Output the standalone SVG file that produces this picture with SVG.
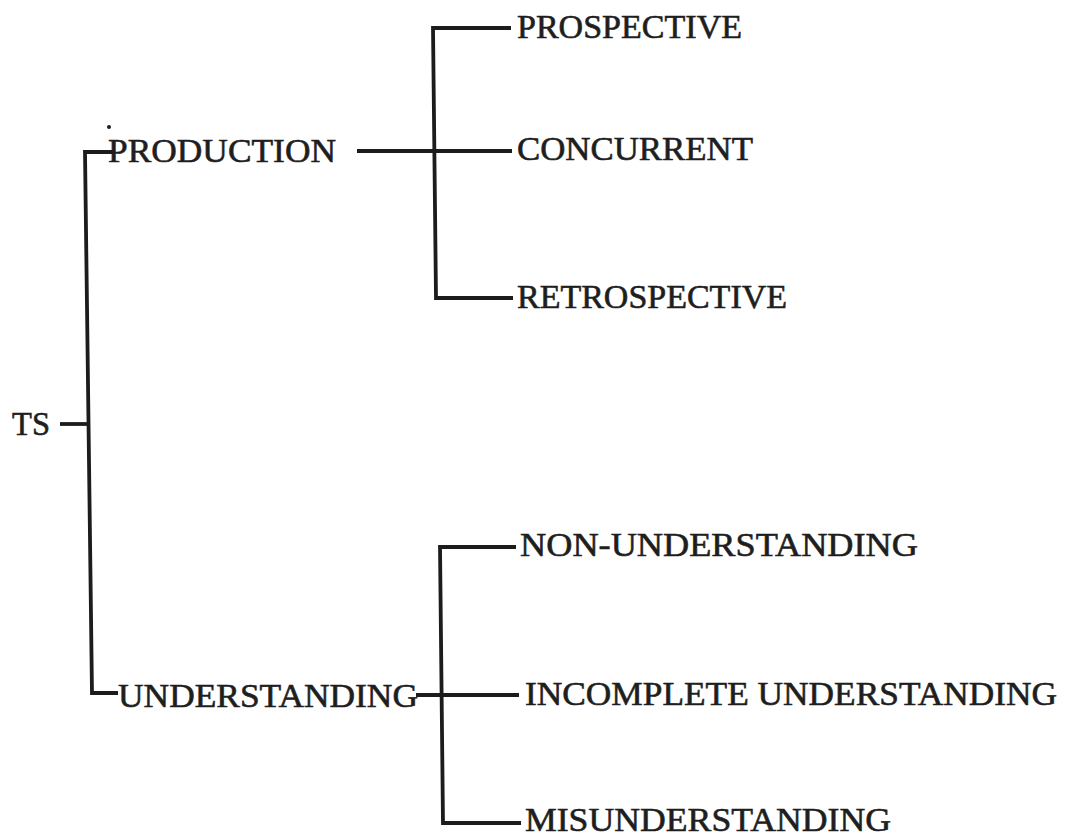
<svg xmlns="http://www.w3.org/2000/svg" width="1069" height="836" viewBox="0 0 1069 836">
<style>
.t{font-family:"Liberation Serif","Times New Roman",serif;font-size:34px;fill:#1e1e1e;stroke:#1e1e1e;stroke-width:0.6}
.c{fill:none;stroke:#1c1c1c;stroke-width:3.8;stroke-linejoin:miter;stroke-linecap:butt}
</style>
<rect width="1069" height="836" fill="#ffffff"/>
<g id="connectors">
<path class="c" d="M60,424 H87"/>
<path class="c" d="M113,152 H85 L92,693 H118"/>
<path class="c" d="M357,151 H512"/>
<path class="c" d="M511,28 H433 L436,298 H513"/>
<path class="c" d="M416,695 H519"/>
<path class="c" d="M516,547 H440 L443,823 H521"/>
</g>
<circle cx="109" cy="127" r="2" fill="#1e1e1e"/>
<g id="ts"><text class="t" x="12" y="435" textLength="38" lengthAdjust="spacingAndGlyphs">TS</text></g>
<g id="production"><text class="t" x="108" y="162" textLength="228" lengthAdjust="spacingAndGlyphs">PRODUCTION</text></g>
<g id="prospective"><text class="t" x="517" y="38" textLength="225" lengthAdjust="spacingAndGlyphs">PROSPECTIVE</text></g>
<g id="concurrent"><text class="t" x="517" y="160" textLength="236" lengthAdjust="spacingAndGlyphs">CONCURRENT</text></g>
<g id="retrospective"><text class="t" x="517" y="308" textLength="270" lengthAdjust="spacingAndGlyphs">RETROSPECTIVE</text></g>
<g id="understanding"><text class="t" x="118" y="707" textLength="300" lengthAdjust="spacingAndGlyphs">UNDERSTANDING</text></g>
<g id="non-understanding"><text class="t" x="520" y="556" textLength="398" lengthAdjust="spacingAndGlyphs">NON-UNDERSTANDING</text></g>
<g id="incomplete-understanding"><text class="t" x="525" y="705" textLength="532" lengthAdjust="spacingAndGlyphs">INCOMPLETE UNDERSTANDING</text></g>
<g id="misunderstanding"><text class="t" x="525" y="831" textLength="366" lengthAdjust="spacingAndGlyphs">MISUNDERSTANDING</text></g>
</svg>
